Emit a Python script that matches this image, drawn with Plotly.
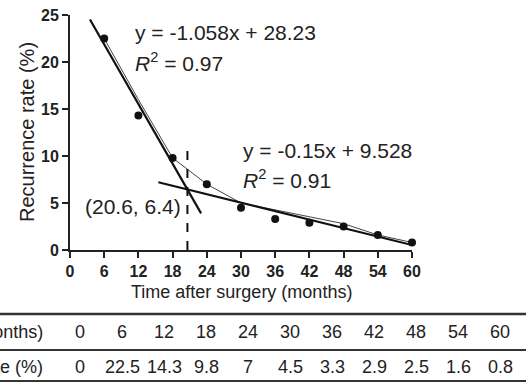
import plotly.graph_objects as go

# ---- data ----
months = [0, 6, 12, 18, 24, 30, 36, 42, 48, 54, 60]
rates = [0, 22.5, 14.3, 9.8, 7, 4.5, 3.3, 2.9, 2.5, 1.6, 0.8]
trend_x = [6, 12, 18, 24, 30, 48, 54, 60]
trend_y = [22.5, 16.0, 9.8, 7.0, 5.0, 2.8, 1.6, 0.8]
fit1_slope, fit1_int, fit1_range = -1.058, 28.23, [3.5, 23]
fit2_slope, fit2_int, fit2_range = -0.15, 9.528, [15.5, 60]
cross_x, cross_y = 20.6, 6.4
dash_top = 11
x_ticks = [0, 6, 12, 18, 24, 30, 36, 42, 48, 54, 60]
y_ticks = [0, 5, 10, 15, 20, 25]
row_labels = ["Time (months)", "Recurrence rate (%)"]

FONT = "Liberation Sans, Arial, sans-serif"
W, H = 526, 385
ML, MR, MT, MB = 70, 114, 15, 135
PW, PH = W - ML - MR, H - MT - MB

def px_to_paper_x(p):
    return (p - ML) / PW

def px_to_paper_y(p):
    return (H - MB - p) / PH

fig = go.Figure()

fig.add_trace(go.Scatter(x=trend_x, y=trend_y, mode="lines",
                         line=dict(color="#444", width=1), showlegend=False))
fig.add_trace(go.Scatter(x=fit1_range, y=[fit1_slope * v + fit1_int for v in fit1_range],
                         mode="lines", line=dict(color="#111", width=2.2), showlegend=False))
fig.add_trace(go.Scatter(x=fit2_range, y=[fit2_slope * v + fit2_int for v in fit2_range],
                         mode="lines", line=dict(color="#111", width=2.2), showlegend=False))
fig.add_trace(go.Scatter(x=[cross_x, cross_x], y=[0, dash_top], mode="lines",
                         line=dict(color="#111", width=2, dash="dash"), showlegend=False))
fig.add_trace(go.Scatter(x=months[1:], y=rates[1:], mode="markers",
                         marker=dict(color="#111", size=8), showlegend=False,
                         cliponaxis=False))

ann = []
eq_font = dict(family=FONT, size=21, color="#222")
ann.append(dict(x=11.0, y=23.1, xref="x", yref="y", text="y = -1.058x + 28.23",
                showarrow=False, xanchor="left", yanchor="middle", font=eq_font))
ann.append(dict(x=11.0, y=20.0, xref="x", yref="y", text="<i>R</i><sup>2</sup> = 0.97",
                showarrow=False, xanchor="left", yanchor="middle", font=eq_font))
ann.append(dict(x=30.0, y=10.6, xref="x", yref="y", text="y = -0.15x + 9.528",
                showarrow=False, xanchor="left", yanchor="middle", font=eq_font))
ann.append(dict(x=30.0, y=7.6, xref="x", yref="y", text="<i>R</i><sup>2</sup> = 0.91",
                showarrow=False, xanchor="left", yanchor="middle", font=eq_font))
ann.append(dict(x=19.9, y=4.6, xref="x", yref="y", text=f"({cross_x}, {cross_y})",
                showarrow=False, xanchor="right", yanchor="middle", font=eq_font))

# axis titles
ann.append(dict(x=0.5, y=px_to_paper_y(292), xref="paper", yref="paper",
                text="Time after surgery (months)", showarrow=False,
                xanchor="center", yanchor="middle",
                font=dict(family=FONT, size=18, color="#222")))
ann.append(dict(x=px_to_paper_x(27), y=px_to_paper_y(132), xref="paper", yref="paper",
                text="Recurrence rate (%)", showarrow=False, textangle=-90,
                xanchor="center", yanchor="middle",
                font=dict(family=FONT, size=20, color="#222")))

# table
tfont = dict(family=FONT, size=18, color="#222")
row_y = [px_to_paper_y(332), px_to_paper_y(367)]
for r, lab in enumerate(row_labels):
    ann.append(dict(x=px_to_paper_x(45), y=row_y[r], xref="paper", yref="paper",
                    text=lab, showarrow=False, xanchor="right", yanchor="middle", font=tfont))
for i, (m, v) in enumerate(zip(months, rates)):
    cx = px_to_paper_x(80 + 42 * i)
    ann.append(dict(x=cx, y=row_y[0], xref="paper", yref="paper", text=str(m),
                    showarrow=False, xanchor="center", yanchor="middle", font=tfont))
    ann.append(dict(x=cx, y=row_y[1], xref="paper", yref="paper", text=str(v),
                    showarrow=False, xanchor="center", yanchor="middle", font=tfont))

shapes = []
for py, wd in [(314, 2.5), (350, 2), (381, 2)]:
    shapes.append(dict(type="line", xref="paper", yref="paper",
                       x0=px_to_paper_x(0), x1=px_to_paper_x(W),
                       y0=px_to_paper_y(py), y1=px_to_paper_y(py),
                       line=dict(color="#333", width=wd)))

fig.update_layout(
    width=W, height=H,
    margin=dict(l=ML, r=MR, t=MT, b=MB, autoexpand=False),
    paper_bgcolor="white", plot_bgcolor="white",
    annotations=ann, shapes=shapes,
    font=dict(family=FONT, color="#222"),
)
fig.update_xaxes(range=[0, 60], tickvals=x_ticks, showgrid=False, zeroline=False,
                 showline=True, linecolor="#222", linewidth=2, automargin=False,
                 ticks="outside", ticklen=6, tickwidth=2, tickcolor="#222",
                 tickfont=dict(family=FONT, size=16, color="#222", weight="bold"))
fig.update_yaxes(range=[0, 25], tickvals=y_ticks, showgrid=False, zeroline=False,
                 showline=True, linecolor="#222", linewidth=2, automargin=False,
                 ticks="outside", ticklen=6, tickwidth=2, tickcolor="#222",
                 tickfont=dict(family=FONT, size=16, color="#222", weight="bold"))

fig.write_html("out.html", config={"displayModeBar": False},
               post_script="document.body.style.margin='0';document.body.style.overflow='hidden';")
